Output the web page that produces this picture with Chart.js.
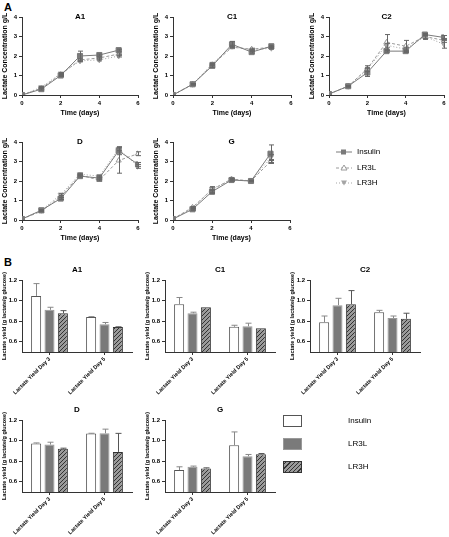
<!DOCTYPE html>
<html>
<head>
<meta charset="utf-8">
<script src="https://cdn.jsdelivr.net/npm/chart.js@4.4.1/dist/chart.umd.min.js"></script>
<style>
body { margin:0; background:#fff; width:449px; height:537px; position:relative; overflow:hidden; font-family:"Liberation Sans", Arial, sans-serif; }
canvas { position:absolute; }
.tag { position:absolute; font-weight:bold; font-size:11px; }
.leg { position:absolute; font-size:8px; color:#000; line-height:10px; filter:grayscale(1); }
.box { position:absolute; width:19px; height:12px; box-sizing:border-box; }
</style>
</head>
<body>
<div class="tag" style="left:4px;top:1px;">A</div>
<div class="tag" style="left:4px;top:256px;">B</div>

<canvas id="lA1" width="150" height="123" style="left:0;top:0"></canvas>
<canvas id="lC1" width="150" height="123" style="left:151px;top:0"></canvas>
<canvas id="lC2" width="142" height="123" style="left:307px;top:0"></canvas>
<canvas id="lD" width="150" height="123" style="left:0;top:125px"></canvas>
<canvas id="lG" width="150" height="123" style="left:151px;top:125px"></canvas>

<canvas id="bA1" width="150" height="142" style="left:0;top:255px"></canvas>
<canvas id="bC1" width="150" height="142" style="left:143px;top:255px"></canvas>
<canvas id="bC2" width="150" height="142" style="left:288px;top:255px"></canvas>
<canvas id="bD" width="150" height="142" style="left:0;top:395px"></canvas>
<canvas id="bG" width="150" height="142" style="left:143px;top:395px"></canvas>

<!-- légende courbes -->
<svg class="leg" style="left:335px;top:148px" width="18" height="42">
  <line x1="1" y1="4" x2="17" y2="4" stroke="#7a7a7a" stroke-width="1"/>
  <rect x="6" y="1.5" width="5" height="5" fill="#7a7a7a"/>
  <line x1="1" y1="20" x2="17" y2="20" stroke="#9a9a9a" stroke-width="1" stroke-dasharray="3,2"/>
  <polygon points="9,17 12,22 6,22" fill="#fff" stroke="#9a9a9a"/>
  <line x1="1" y1="35" x2="17" y2="35" stroke="#a5a5a5" stroke-width="1" stroke-dasharray="1,2"/>
  <polygon points="6,32.5 12,32.5 9,37.5" fill="#a5a5a5"/>
</svg>
<div class="leg" style="left:357px;top:147px">Insulin</div>
<div class="leg" style="left:357px;top:163px">LR3L</div>
<div class="leg" style="left:357px;top:178px">LR3H</div>

<!-- légende barres -->
<div class="box" style="left:283px;top:415px;border:1px solid #555;background:#fff"></div>
<div class="box" style="left:283px;top:438px;border:1px solid #999;background:#7a7a7a"></div>
<div class="box" style="left:283px;top:461px;border:1px solid #333;background:repeating-linear-gradient(-45deg,#9a9a9a 0 2px,#333 2px 3px)"></div>
<div class="leg" style="left:348px;top:416px">Insulin</div>
<div class="leg" style="left:348px;top:439px">LR3L</div>
<div class="leg" style="left:348px;top:462px">LR3H</div>

<script>
// --- Données ---
const days = [0, 1, 2, 3, 4, 5, 6];
const seriesNames = ["Insulin", "LR3L", "LR3H"];

// Concentration en lactate g/L : [Insulin, LR3L, LR3H]
const concA1 = [[0, 0.3, 1.0, 2.0, 2.05, 2.3], [0, 0.35, 1.05, 1.8, 1.9, 2.1], [0, 0.4, 1.1, 1.75, 1.8, 2.0]];
const sdA1   = [[0, 0.05, 0.05, 0.25, 0.05, 0.05], [0, 0.03, 0.05, 0.05, 0.05, 0.05], [0, 0.03, 0.05, 0.05, 0.05, 0.05]];
const concC1 = [[0, 0.55, 1.5, 2.6, 2.2, 2.5], [0, 0.55, 1.55, 2.45, 2.35, 2.45], [0, 0.55, 1.6, 2.5, 2.3, 2.4]];
const sdC1   = [[0, 0.03, 0.1, 0.15, 0.05, 0.05], [0, 0.03, 0.05, 0.05, 0.05, 0.05], [0, 0.03, 0.05, 0.05, 0.05, 0.05]];
const concC2 = [[0.05, 0.45, 1.15, 2.25, 2.25, 3.1, 2.95], [0.05, 0.45, 1.35, 2.7, 2.5, 3.0, 2.8], [0.05, 0.45, 1.3, 2.55, 2.35, 3.0, 2.6]];
const sdC2   = [[0, 0.03, 0.2, 0.05, 0.05, 0.05, 0.1], [0, 0.03, 0.15, 0.4, 0.3, 0.1, 0.1], [0, 0.03, 0.1, 0.1, 0.1, 0.15, 0.2]];
const concD  = [[0.05, 0.5, 1.1, 2.25, 2.15, 3.55, 2.85], [0.05, 0.45, 1.2, 2.3, 2.05, 3.05, 3.4], [0.05, 0.5, 1.3, 2.35, 2.25, 3.65, 2.75]];
const sdD    = [[0, 0.03, 0.05, 0.05, 0.05, 0.2, 0.1], [0, 0.03, 0.05, 0.05, 0.05, 0.65, 0.1], [0, 0.03, 0.05, 0.05, 0.05, 0.1, 0.1]];
const concG  = [[0.05, 0.55, 1.45, 2.05, 2.0, 3.4], [0.05, 0.65, 1.55, 2.1, 2.0, 3.0], [0.05, 0.6, 1.6, 2.05, 2.0, 3.2]];
const sdG    = [[0, 0.05, 0.1, 0.05, 0.03, 0.45], [0, 0.05, 0.15, 0.05, 0.03, 0.1], [0, 0.05, 0.1, 0.05, 0.03, 0.15]];

// Rendement lactate (g lactate/g glucose) : [Insulin, LR3L, LR3H] x [Day 3, Day 5]
const yieldLabels = ["Lactate Yield Day 3", "Lactate Yield Day 5"];
const yieldTicks = [0.6, 0.8, 1.0, 1.2];
const yieldA1 = [[1.045, 0.84], [0.91, 0.77], [0.877, 0.742]];
const errA1   = [[0.12, 0.004], [0.025, 0.017], [0.025, 0.003]];
const yieldC1 = [[0.965, 0.745], [0.877, 0.75], [0.935, 0.73]];
const errC1   = [[0.065, 0.015], [0.01, 0.03], [0, 0]];
const yieldC2 = [[0.79, 0.887], [0.955, 0.83], [0.965, 0.823]];
const errC2   = [[0.06, 0.018], [0.067, 0.02], [0.132, 0.054]];
const yieldD  = [[0.971, 1.068], [0.961, 1.071], [0.92, 0.89]];
const errD    = [[0.006, 0.003], [0.023, 0.04], [0.006, 0.18]];
const yieldG  = [[0.713, 0.955], [0.745, 0.848], [0.729, 0.868]];
const errG    = [[0.032, 0.129], [0.007, 0.017], [0.006, 0.006]];

const FONT = '"Liberation Sans", Arial, sans-serif';

// Barres d'erreur (dessinées via les échelles)
const errorBars = {
    id: "errorBars",
    afterDatasetsDraw(chart) {
        const ctx = chart.ctx;
        const yScale = chart.scales.y;
        chart.data.datasets.forEach((ds, di) => {
            if (!ds.sd) return;
            const meta = chart.getDatasetMeta(di);
            ctx.save();
            ctx.strokeStyle = ds.errColor || ds.borderColor;
            ctx.lineWidth = 1;
            meta.data.forEach((el, i) => {
                const s = ds.sd[i];
                if (!s) return;
                const d = ds.data[i];
                const v = typeof d === "object" ? d.y : d;
                const x = Math.round(el.x) + 0.5;
                const top = yScale.getPixelForValue(v + s);
                const bot = ds.upOnly ? yScale.getPixelForValue(v) : yScale.getPixelForValue(v - s);
                const cap = ds.capW || 2.5;
                ctx.beginPath();
                ctx.moveTo(x, top); ctx.lineTo(x, bot);
                ctx.moveTo(x - cap, top); ctx.lineTo(x + cap, top);
                if (!ds.upOnly) { ctx.moveTo(x - cap, bot); ctx.lineTo(x + cap, bot); }
                ctx.stroke();
            });
            ctx.restore();
        });
    }
};

// Titre de panneau centré sur la zone de tracé
const panelTitle = {
    id: "panelTitle",
    afterDraw(chart, args, opts) {
        const { ctx, chartArea } = chart;
        ctx.save();
        ctx.font = "bold 8px " + FONT;
        ctx.fillStyle = "#000";
        ctx.textAlign = "center";
        ctx.textBaseline = "middle";
        ctx.fillText(opts.text, (chartArea.left + chartArea.right) / 2, chartArea.top + (opts.dy || 0));
        ctx.restore();
    }
};

const tickFont = { family: FONT, size: 6, weight: "bold" };
const axisFont = { family: FONT, size: 7, weight: "bold" };

const lineStyles = [
    { borderColor: "#7a7a7a", backgroundColor: "#7a7a7a", pointStyle: "rect", pointRadius: 3.6, borderWidth: 1 },
    { borderColor: "#9a9a9a", backgroundColor: "#fff", pointStyle: "triangle", pointRadius: 3, borderWidth: 1, borderDash: [3, 2] },
    { borderColor: "#a5a5a5", backgroundColor: "#a5a5a5", pointStyle: "triangle", pointRotation: 180, pointRadius: 3, borderWidth: 1, borderDash: [1, 2] }
];

function makeLine(id, title, conc, sd, padRight) {
    const datasets = conc.map((vals, k) => ({
        label: seriesNames[k],
        data: vals.map((v, i) => ({ x: days[i], y: v })),
        sd: sd[k],
        errColor: "#666",
        pointBorderWidth: 1,
        ...lineStyles[k]
    }));
    return new Chart(document.getElementById(id), {
        type: "line",
        data: { datasets },
        plugins: [errorBars, panelTitle],
        options: {
            responsive: false,
            animation: false,
            devicePixelRatio: 1,
            layout: { padding: { top: 17, right: padRight, left: 0, bottom: 6 } },
            plugins: { legend: { display: false }, tooltip: { enabled: false }, panelTitle: { text: title, dy: 0 } },
            scales: {
                x: {
                    type: "linear", min: 0, max: 6,
                    ticks: { stepSize: 2, font: tickFont, color: "#000", padding: 2 },
                    grid: { drawOnChartArea: false, tickLength: 3, color: "#333" },
                    border: { color: "#333" },
                    title: { display: true, text: "Time (days)", font: axisFont, color: "#000", padding: { top: 1, bottom: 0 } },
                    afterFit: s => { s.height = 22; }
                },
                y: {
                    min: 0, max: 4,
                    ticks: { stepSize: 1, font: tickFont, color: "#000", padding: 2 },
                    grid: { drawOnChartArea: false, tickLength: 3, color: "#333" },
                    border: { color: "#333" },
                    title: { display: true, text: "Lactate Concentration g/L", font: axisFont, color: "#000", padding: { top: 1, bottom: 1 } },
                    afterFit: s => { s.width = 22; }
                }
            }
        }
    });
}

function hatch() {
    const c = document.createElement("canvas");
    c.width = 4; c.height = 4;
    const g = c.getContext("2d");
    g.fillStyle = "#9a9a9a"; g.fillRect(0, 0, 4, 4);
    g.strokeStyle = "#333"; g.lineWidth = 1;
    g.beginPath();
    g.moveTo(0, 4); g.lineTo(4, 0);
    g.moveTo(-1, 1); g.lineTo(1, -1);
    g.moveTo(3, 5); g.lineTo(5, 3);
    g.stroke();
    return g.createPattern(c, "repeat");
}

function makeBar(id, title, vals, errs) {
    const canvas = document.getElementById(id);
    const styles = [
        { backgroundColor: "#fff", borderColor: "#555", errColor: "#888" },
        { backgroundColor: "#7a7a7a", borderColor: "#999", errColor: "#888" },
        { backgroundColor: hatch(), borderColor: "#333", errColor: "#555" }
    ];
    const datasets = vals.map((v, k) => ({
        label: seriesNames[k],
        data: v,
        sd: errs[k],
        upOnly: true,
        capW: 3,
        borderWidth: 1,
        categoryPercentage: 0.73,
        barPercentage: 0.75,
        ...styles[k]
    }));
    return new Chart(canvas, {
        type: "bar",
        data: { labels: yieldLabels, datasets },
        plugins: [errorBars, panelTitle],
        options: {
            responsive: false,
            animation: false,
            devicePixelRatio: 1,
            layout: { padding: { top: 25, right: 18, left: 0, bottom: 0 } },
            plugins: { legend: { display: false }, tooltip: { enabled: false }, panelTitle: { text: title, dy: -10 } },
            scales: {
                x: {
                    ticks: { font: { family: FONT, size: 5.5, weight: "bold" }, color: "#000", autoSkip: false, minRotation: 45, maxRotation: 45, padding: 1 },
                    grid: { drawOnChartArea: false, offset: false, tickLength: 3, color: "#333" },
                    border: { color: "#333" },
                    afterFit: s => { s.height = 45; }
                },
                y: {
                    min: 0.5, max: 1.2,
                    afterBuildTicks: s => { s.ticks = yieldTicks.map(v => ({ value: v })); },
                    ticks: { font: tickFont, color: "#000", padding: 2, callback: v => v.toFixed(1) },
                    grid: { drawOnChartArea: false, tickLength: 3, color: "#333" },
                    border: { color: "#333" },
                    title: { display: true, text: "Lactate yield (g lactate/g glucose)", font: { family: FONT, size: 5.5, weight: "bold" }, color: "#000", padding: { top: 1, bottom: 1 } },
                    afterFit: s => { s.width = 22; }
                }
            }
        }
    });
}

makeLine("lA1", "A1", concA1, sdA1, 12);
makeLine("lC1", "C1", concC1, sdC1, 10);
makeLine("lC2", "C2", concC2, sdC2, 2);
makeLine("lD", "D", concD, sdD, 12);
makeLine("lG", "G", concG, sdG, 11);

makeBar("bA1", "A1", yieldA1, errA1);
makeBar("bC1", "C1", yieldC1, errC1);
makeBar("bC2", "C2", yieldC2, errC2);
makeBar("bD", "D", yieldD, errD);
makeBar("bG", "G", yieldG, errG);
</script>
</body>
</html>
